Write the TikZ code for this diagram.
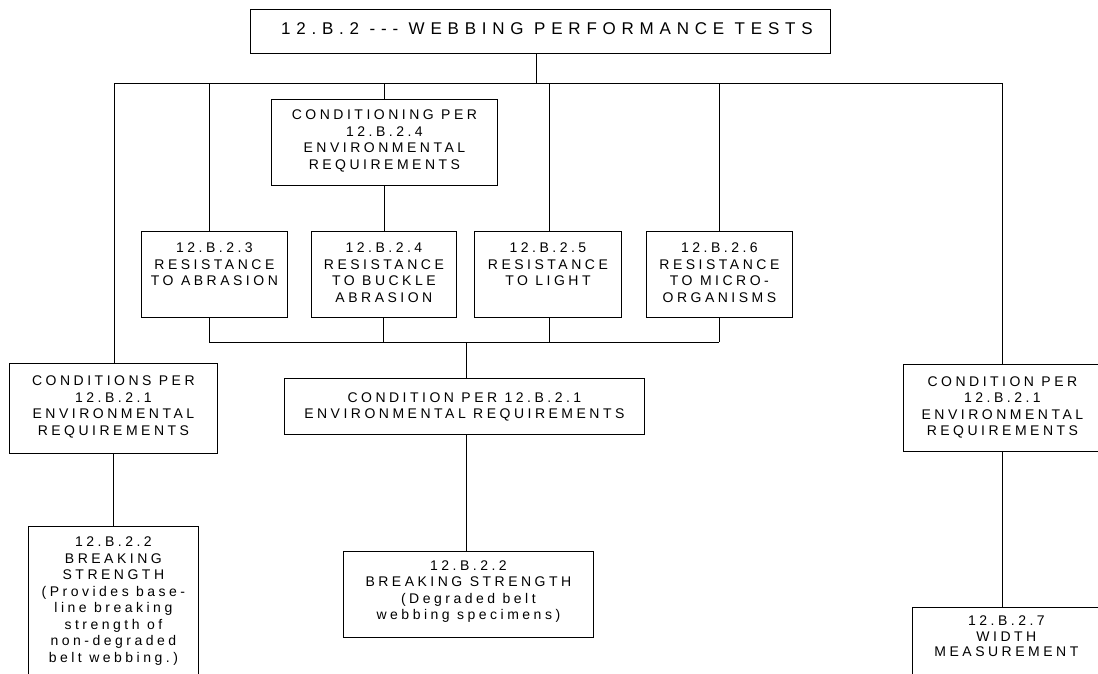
\documentclass[tikz,border=0pt]{standalone}
\usepackage{fontspec}
\setmainfont{Liberation Sans}[LetterSpace=25]
\newfontfamily\titlefont{Liberation Sans}[LetterSpace=34]
% fixed-size, top-aligned text block: width, height, top padding, text
\newcommand\cellbox[4]{\parbox[c][#2][t]{#1}{\vspace*{#3}\centering #4\par}}

\begin{document}
\begin{tikzpicture}[x=1pt,y=-1pt,
  box/.style={draw=black, line width=0.8pt, inner sep=0pt, anchor=north west,
              font=\fontsize{14}{16.5}\selectfont},
  link/.style={draw=black, line width=0.8pt}]
\clip (0,0) rectangle (1098,673);
\fill[white] (0,0) rectangle (1098,673);

% title
\node[box, font=\titlefont\fontsize{17}{20}\selectfont] (title) at (250,9)
  {\cellbox{580pt}{44pt}{13.3pt}{\hspace*{13pt}12.B.2 --- WEBBING PERFORMANCE TESTS}};

% conditioning for the buckle abrasion test
\node[box] (cond) at (271,99)
  {\cellbox{226pt}{86pt}{10.5pt}{CONDITIONING PER\\12.B.2.4\\ENVIRONMENTAL\\REQUIREMENTS}};

% resistance tests
\node[box] (r1) at (141,231) {\cellbox{146pt}{86pt}{11.5pt}{12.B.2.3\\RESISTANCE\\TO ABRASION}};
\node[box] (r2) at (311,231) {\cellbox{145pt}{86pt}{11.5pt}{12.B.2.4\\RESISTANCE\\TO BUCKLE\\ABRASION}};
\node[box] (r3) at (474,231) {\cellbox{147pt}{86pt}{11.5pt}{12.B.2.5\\RESISTANCE\\TO LIGHT}};
\node[box] (r4) at (646,231) {\cellbox{146pt}{86pt}{11.5pt}{12.B.2.6\\RESISTANCE\\TO MICRO-\\ORGANISMS}};

% environmental conditioning boxes
\node[box] (cl) at (9,363)
  {\cellbox{208pt}{90pt}{12.7pt}{CONDITIONS PER\\12.B.2.1\\ENVIRONMENTAL\\REQUIREMENTS}};
\node[box] (cm) at (284,378)
  {\cellbox{360pt}{56pt}{14pt}{CONDITION PER 12.B.2.1\\ENVIRONMENTAL REQUIREMENTS}};
\node[box] (cr) at (903,364)
  {\cellbox{198pt}{87pt}{12pt}{CONDITION PER\\12.B.2.1\\ENVIRONMENTAL\\REQUIREMENTS}};

% final measurements
\node[box] (lb) at (28,526)
  {\cellbox{170pt}{170pt}{10.7pt}{12.B.2.2\\BREAKING\\STRENGTH\\(Provides base-\\line breaking\\strength of\\non-degraded\\belt webbing.)}};
\node[box] (mb) at (343,551)
  {\cellbox{250pt}{86pt}{9pt}{12.B.2.2\\BREAKING STRENGTH\\(Degraded belt\\webbing specimens)}};
\node[box, font=\fontsize{14}{15.5}\selectfont] (wb) at (912,607)
  {\cellbox{188pt}{100pt}{8.7pt}{12.B.2.7\\WIDTH\\MEASUREMENT}};

% upper bus
\coordinate (busL) at (114,83);
\coordinate (busR) at (1002,83);
\coordinate (top)  at (536,83);
\coordinate (d1) at (209,83);
\coordinate (d2) at (384,83);
\coordinate (d3) at (549,83);
\coordinate (d4) at (719,83);
\draw[link] (title.south -| top) -- (top);
\draw[link] (busL) -- (busR);
\draw[link] (busL) -- (busL |- cl.north);
\draw[link] (busR) -- (busR |- cr.north);
\draw[link] (d1) -- (d1 |- r1.north);
\draw[link] (d2) -- (d2 |- cond.north);
\draw[link] (cond.south) -- (cond.south |- r2.north);
\draw[link] (d3) -- (d3 |- r3.north);
\draw[link] (d4) -- (d4 |- r4.north);

% lower bus collecting the resistance tests
\coordinate (b1) at (209,342);
\coordinate (b2) at (383,342);
\coordinate (b3) at (549,342);
\coordinate (b4) at (719,342);
\coordinate (bm) at (466,342);
\draw[link] (r1.south -| b1) -- (b1);
\draw[link] (r2.south -| b2) -- (b2);
\draw[link] (r3.south -| b3) -- (b3);
\draw[link] (r4.south -| b4) -- (b4);
\draw[link] (b1) -- (b4);
\draw[link] (bm) -- (bm |- cm.north);

% links to breaking strength and width
\draw[link] (cl.south) -- (cl.south |- lb.north);
\draw[link] (cm.south -| bm) -- (bm |- mb.north);
\draw[link] (cr.south -| busR) -- (busR |- wb.north);
\end{tikzpicture}
\end{document}
